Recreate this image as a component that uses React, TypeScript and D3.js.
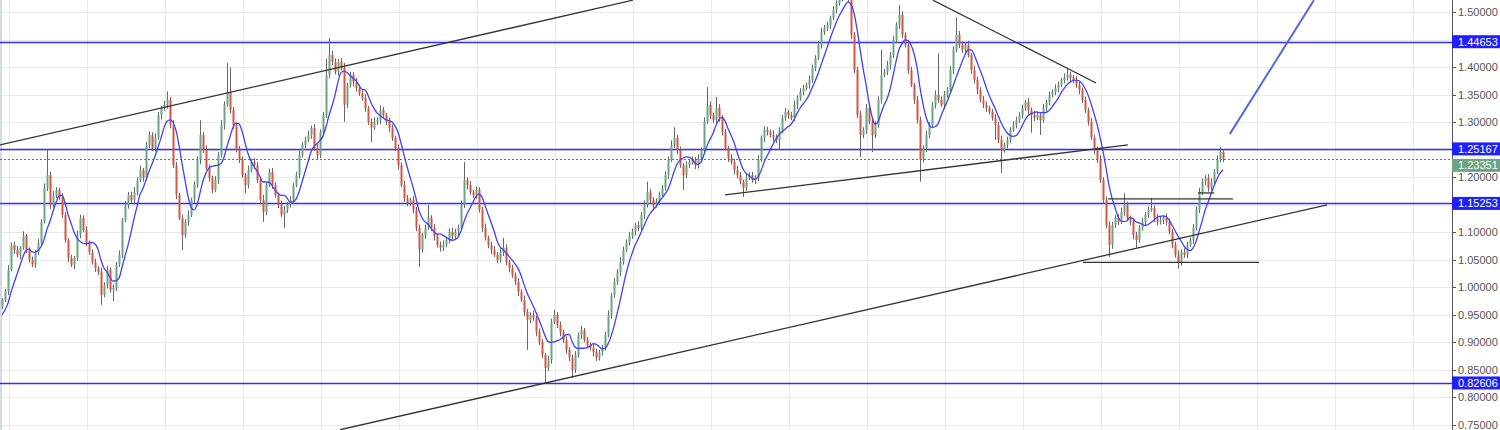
import React from 'react';
import * as d3 from 'd3';

const W = 1500;
const H = 430;
const AXIS_X = 1452;

// Close prices (open = previous close)
const closes: number[] = [
  0.977, 0.992, 1.032, 1.077, 1.068, 1.059, 1.072, 1.093, 1.068, 1.050,
  1.041, 1.064, 1.081, 1.119, 1.181, 1.204, 1.150, 1.166, 1.177, 1.164,
  1.132, 1.086, 1.053, 1.041, 1.053, 1.095, 1.126, 1.104, 1.082, 1.064,
  1.046, 1.035, 1.028, 0.986, 1.004, 1.032, 0.995, 0.999, 1.041, 1.059,
  1.122, 1.150, 1.168, 1.159, 1.173, 1.195, 1.213, 1.199, 1.259, 1.277,
  1.253, 1.272, 1.313, 1.326, 1.332, 1.341, 1.295, 1.222, 1.168, 1.126,
  1.095, 1.119, 1.132, 1.159, 1.186, 1.232, 1.277, 1.250, 1.217, 1.199,
  1.177, 1.195, 1.241, 1.295, 1.332, 1.355, 1.322, 1.295, 1.250, 1.232,
  1.204, 1.186, 1.213, 1.228, 1.222, 1.195, 1.159, 1.137, 1.186, 1.210,
  1.186, 1.168, 1.150, 1.132, 1.141, 1.150, 1.159, 1.186, 1.204, 1.241,
  1.259, 1.268, 1.277, 1.290, 1.253, 1.241, 1.282, 1.313, 1.386, 1.422,
  1.410, 1.392, 1.410, 1.399, 1.332, 1.368, 1.386, 1.373, 1.362, 1.353,
  1.344, 1.326, 1.301, 1.290, 1.301, 1.304, 1.322, 1.313, 1.301, 1.290,
  1.272, 1.253, 1.222, 1.186, 1.162, 1.153, 1.159, 1.141, 1.108, 1.068,
  1.095, 1.108, 1.126, 1.108, 1.093, 1.077, 1.072, 1.077, 1.086, 1.101,
  1.093, 1.101, 1.108, 1.150, 1.195, 1.186, 1.173, 1.168, 1.177, 1.141,
  1.108, 1.090, 1.077, 1.068, 1.059, 1.050, 1.064, 1.072, 1.046, 1.035,
  1.022, 1.010, 0.992, 0.977, 0.955, 0.941, 0.950, 0.944, 0.919, 0.901,
  0.877, 0.853, 0.868, 0.937, 0.950, 0.932, 0.919, 0.904, 0.886, 0.872,
  0.850, 0.877, 0.913, 0.922, 0.904, 0.895, 0.890, 0.882, 0.872, 0.882,
  0.890, 0.913, 0.950, 0.986, 1.010, 1.028, 1.046, 1.068, 1.082, 1.093,
  1.101, 1.113, 1.108, 1.132, 1.150, 1.173, 1.159, 1.150, 1.155, 1.168,
  1.181, 1.204, 1.232, 1.259, 1.272, 1.250, 1.222, 1.204, 1.222, 1.228,
  1.232, 1.222, 1.235, 1.250, 1.301, 1.332, 1.313, 1.304, 1.326, 1.308,
  1.282, 1.253, 1.235, 1.228, 1.213, 1.204, 1.192, 1.181, 1.199, 1.204,
  1.195, 1.199, 1.232, 1.272, 1.286, 1.282, 1.277, 1.272, 1.268, 1.286,
  1.308, 1.319, 1.313, 1.308, 1.332, 1.344, 1.355, 1.362, 1.368, 1.377,
  1.399, 1.417, 1.441, 1.464, 1.472, 1.477, 1.490, 1.504, 1.517, 1.526,
  1.533, 1.537, 1.526, 1.459, 1.395, 1.313, 1.277, 1.286, 1.326, 1.301,
  1.277, 1.295, 1.341, 1.386, 1.392, 1.404, 1.422, 1.450, 1.477, 1.495,
  1.459, 1.441, 1.395, 1.368, 1.341, 1.304, 1.232, 1.253, 1.277, 1.295,
  1.332, 1.350, 1.341, 1.332, 1.350, 1.359, 1.395, 1.432, 1.459, 1.441,
  1.432, 1.441, 1.422, 1.395, 1.377, 1.359, 1.341, 1.332, 1.326, 1.319,
  1.308, 1.295, 1.268, 1.250, 1.259, 1.268, 1.286, 1.295, 1.304, 1.313,
  1.326, 1.337, 1.322, 1.313, 1.308, 1.313, 1.304, 1.326, 1.337, 1.350,
  1.355, 1.362, 1.368, 1.377, 1.381, 1.386, 1.381, 1.377, 1.368, 1.359,
  1.341, 1.322, 1.301, 1.272, 1.250, 1.232, 1.195, 1.159, 1.113, 1.077,
  1.113, 1.126, 1.119, 1.137, 1.150, 1.126, 1.119, 1.095, 1.086, 1.108,
  1.119, 1.132, 1.141, 1.144, 1.126, 1.119, 1.122, 1.126, 1.119, 1.101,
  1.077, 1.059, 1.046, 1.064, 1.059, 1.077, 1.086, 1.108, 1.141, 1.173,
  1.192, 1.199, 1.181, 1.192, 1.210, 1.232, 1.246, 1.23351,
];
const firstOpen = 0.965;
// closes before the visible range, only feeding the moving average
const priorCloses: number[] = [0.930, 0.945, 0.938, 0.952, 0.948, 0.960];

// Wick lengths above / below the body, in units of 0.001
const upperWick: number[] = [
  3,5,8,4,6,7,3,9,4,5, 6,4,7,5,8,45,6,9,5,4, 7,5,3,6,4,8,6,5,7,3, 5,6,4,8,5,7,4,6,5,8,
  4,7,5,6,9,5,8,4,6,7, 5,8,6,4,7,15,5,9,6,4, 6,5,8,4,7,6,27,5,8,6, 4,7,5,9,6,53,45,6,5,7,
  6,4,8,5,7,6,4,9,5,6, 7,5,4,8,6,5,7,4,6,8, 5,6,8,4,7,9,5,6,30,31, 8,6,5,7,9,4,6,5,8,6,
  5,7,4,6,8,5,9,6,4,7, 6,4,7,5,8,6,4,7,5,6, 4,6,24,5,7,4,6,8,5,6, 7,5,6,8,33,5,7,4,6,5,
  5,8,4,6,7,5,7,18,6,4, 6,5,7,4,8,6,5,7,4,6, 5,4,8,6,9,5,6,4,7,5, 6,7,5,8,4,6,5,7,6,4,
  5,6,8,4,7,5,9,6,5,8, 6,4,7,5,8,19,6,5,7,6, 5,7,6,8,19,5,6,4,7,5, 6,5,7,4,8,32,6,5,20,7,
  5,6,4,7,5,8,6,4,7,5, 6,5,8,4,7,6,5,9,6,5, 5,7,4,6,8,5,7,6,4,8, 6,5,7,8,5,6,4,7,5,6,
  8,10,6,7,5,6,8,5,7,6, 5,7,6,46,5,8,6,7,5,18, 7,5,8,6,4,7,6,5,8,6, 5,8,76,6,7,5,8,6,32,7,
  6,5,7,4,8,6,5,7,6,4, 5,7,6,8,4,6,5,7,6,5, 6,4,7,5,8,6,5,7,4,6, 5,7,6,4,8,13,6,5,7,6,
  4,6,5,7,5,6,8,5,6,7, 6,5,7,8,21,6,5,7,6,5, 7,5,6,18,5,7,6,5,8,6, 5,6,8,5,7,6,5,7,6,8,
  6,5,7,6,5,8,9,5,
];
const lowerWick: number[] = [
  5,4,6,3,7,5,8,4,6,5, 4,6,5,7,3,6,8,5,4,6, 6,5,7,4,8,5,6,4,7,5, 5,7,6,18,4,6,5,20,6,4,
  6,4,7,5,8,6,4,7,5,6, 5,6,4,8,5,7,6,5,8,4, 27,5,7,4,6,5,8,6,4,7, 6,4,7,5,8,4,6,7,5,6,
  5,15,6,4,7,5,8,18,6,4, 7,5,6,4,24,6,5,7,4,6, 5,6,4,7,5,8,6,4,5,6, 6,5,7,4,31,6,5,8,6,5,
  5,7,6,26,4,6,7,5,6,8, 6,5,8,4,7,6,5,7,6,31, 5,7,4,6,8,5,7,6,4,6, 6,5,7,4,6,8,5,6,7,5,
  7,5,6,8,4,6,5,7,6,8, 5,6,8,4,7,55,6,5,8,6, 6,27,5,7,4,6,8,5,7,6, 15,6,5,7,4,6,5,8,6,5,
  6,5,4,7,5,6,8,5,4,6, 5,7,6,4,8,5,6,7,5,6, 6,5,7,4,6,8,5,27,6,5, 5,7,6,8,5,4,7,6,5,7,
  6,4,7,5,8,6,5,17,6,4, 5,7,6,4,8,6,5,7,6,18, 6,5,7,4,6,8,5,6,4,7, 5,6,4,7,5,6,8,4,6,5,
  6,5,7,8,6,5,40,6,7,5, 31,6,5,7,4,6,8,5,6,7, 6,5,7,4,8,6,40,5,7,6, 5,7,6,4,8,5,6,7,5,6,
  6,5,4,7,6,8,5,6,7,5, 5,27,6,42,5,7,6,4,6,5, 6,5,7,32,6,4,27,5,7,6, 5,6,7,4,6,5,7,6,5,8,
  6,5,7,4,8,6,5,7,6,22, 7,5,6,4,7,5,6,8,14,5, 5,7,6,4,8,6,5,7,6,5, 6,5,12,7,5,6,4,7,5,6,
  5,6,7,5,6,4,5,6,
];

const priceTicks: number[] = [1.5, 1.45, 1.4, 1.35, 1.3, 1.25, 1.2, 1.15, 1.1, 1.05, 1.0, 0.95, 0.9, 0.85, 0.8, 0.75];
const levelLines: number[] = [1.44653, 1.25167, 1.15253, 0.82606];
const lastPrice = 1.23351;
const maPeriod = 7;
const gridStartIndex = 2.33;
const gridStepCandles = 26;

// trend lines: [candle index, price] -> [candle index, price]
const trendLines: [number, number, number, number][] = [
  [-0.67, 1.259, 210.3, 1.522],
  [112.7, 0.741, 441.7, 1.15],
  [310.3, 1.522, 364.7, 1.3715],
  [241, 1.168, 375.3, 1.259],
  [360.3, 1.0455, 419, 1.0455],
  [368.7, 1.1606, 410.3, 1.1606],
  [398.7, 1.1715, 404, 1.1715],
];
const projectionLine: [number, number, number, number] = [409.3, 1.279, 437.3, 1.522];

const fmt = d3.format('.5f');
const FONT = '"Liberation Sans", Arial, sans-serif';

export default function App() {
  const n = closes.length;
  const x = d3.scaleLinear().domain([0, n - 1]).range([2, 2 + 3 * (n - 1)]);
  const y = d3.scaleLinear().domain([0.75, 1.5]).range([424.8, 12.3]);
  const snap = (v: number) => Math.round(v) + 0.5;

  const candles = closes.map((c, i) => {
    const o = i === 0 ? firstOpen : closes[i - 1];
    const hi = Math.max(o, c) + upperWick[i] * 0.001;
    const lo = Math.min(o, c) - lowerWick[i] * 0.001;
    return { i, o, c, hi, lo };
  });

  const all = priorCloses.concat(closes);
  const off = priorCloses.length;
  const ma = closes.map((_, i) => {
    const j = i + off;
    const s = Math.max(0, j - maPeriod + 1);
    return d3.mean(all.slice(s, j + 1)) as number;
  });
  const maLine = d3
    .line<number>()
    .x((_, i) => x(i))
    .y((d) => y(d))
    .curve(d3.curveMonotoneX)(ma) as string;

  const gridXs: number[] = [];
  for (let k = gridStartIndex; x(k) < AXIS_X; k += gridStepCandles) gridXs.push(x(k));

  const lastY = y(lastPrice);

  return (
    <svg width={W} height={H} style={{ position: 'absolute', left: 0, top: 0, background: '#fff' }}>
      <defs>
        <clipPath id="plot">
          <rect x={0} y={0} width={AXIS_X} height={H} />
        </clipPath>
      </defs>
      <rect x={0} y={0} width={W} height={H} fill="#fff" />
      <g clipPath="url(#plot)">
        {priceTicks.map((p) => (
          <line key={'h' + p} x1={0} x2={AXIS_X} y1={snap(y(p))} y2={snap(y(p))} stroke="#e9e9e9" strokeWidth={1} />
        ))}
        {gridXs.map((gx, k) => (
          <line key={'v' + k} x1={snap(gx)} x2={snap(gx)} y1={0} y2={H} stroke="#e9e9e9" strokeWidth={1} />
        ))}
        <line x1={1} x2={1} y1={0} y2={H} stroke="#d6dbe3" strokeWidth={2} />

        {levelLines.map((p) => (
          <line key={'l' + p} x1={0} x2={AXIS_X} y1={snap(y(p))} y2={snap(y(p))} stroke="#2e2eff" strokeWidth={1.4} />
        ))}
        <line x1={0} x2={AXIS_X} y1={snap(lastY)} y2={snap(lastY)} stroke="#3f8a5e" strokeWidth={1} strokeDasharray="2,2" />

        {candles.map((d) => (
          <line key={'w' + d.i} x1={x(d.i) + 0.5} x2={x(d.i) + 0.5} y1={y(d.hi)} y2={y(d.lo)} stroke="#666" strokeWidth={1} />
        ))}
        {candles.map((d) => {
          const top = y(Math.max(d.o, d.c));
          const bot = y(Math.min(d.o, d.c));
          return (
            <rect
              key={'b' + d.i}
              x={x(d.i) - 0.5}
              y={top}
              width={2}
              height={Math.max(1, bot - top)}
              fill={d.c >= d.o ? '#6ba583' : '#d75442'}
            />
          );
        })}
        <path d={maLine} fill="none" stroke="#4040ff" strokeWidth={1.3} />

        {trendLines.map((t, k) => (
          <line key={'t' + k} x1={x(t[0])} y1={y(t[1])} x2={x(t[2])} y2={y(t[3])} stroke="#333" strokeWidth={1.3} />
        ))}
        <line
          x1={x(projectionLine[0])}
          y1={y(projectionLine[1])}
          x2={x(projectionLine[2])}
          y2={y(projectionLine[3])}
          stroke="#5468e0"
          strokeWidth={2}
        />
      </g>

      {/* price axis */}
      <line x1={AXIS_X + 0.5} x2={AXIS_X + 0.5} y1={0} y2={H} stroke="#555" strokeWidth={1} />
      {priceTicks.map((p) => (
        <g key={'t' + p}>
          <line x1={AXIS_X} x2={AXIS_X + 4} y1={snap(y(p))} y2={snap(y(p))} stroke="#555" />
          <text x={AXIS_X + 6} y={y(p)} dy="0.35em" fontFamily={FONT} fontSize={11} fill="#555">
            {fmt(p)}
          </text>
        </g>
      ))}
      {levelLines.map((p) => (
        <g key={'bx' + p}>
          <rect x={AXIS_X} y={y(p) - 6.5} width={W - AXIS_X} height={13} fill="#1f1fff" />
          <text x={AXIS_X + 6} y={y(p)} dy="0.35em" fontFamily={FONT} fontSize={11} fill="#fff">
            {fmt(p)}
          </text>
        </g>
      ))}
      <rect x={AXIS_X} y={lastY} width={W - AXIS_X} height={13} fill="#6ba583" />
      <text x={AXIS_X + 6} y={lastY + 6.5} dy="0.35em" fontFamily={FONT} fontSize={11} fill="#fff">
        {fmt(lastPrice)}
      </text>
    </svg>
  );
}
